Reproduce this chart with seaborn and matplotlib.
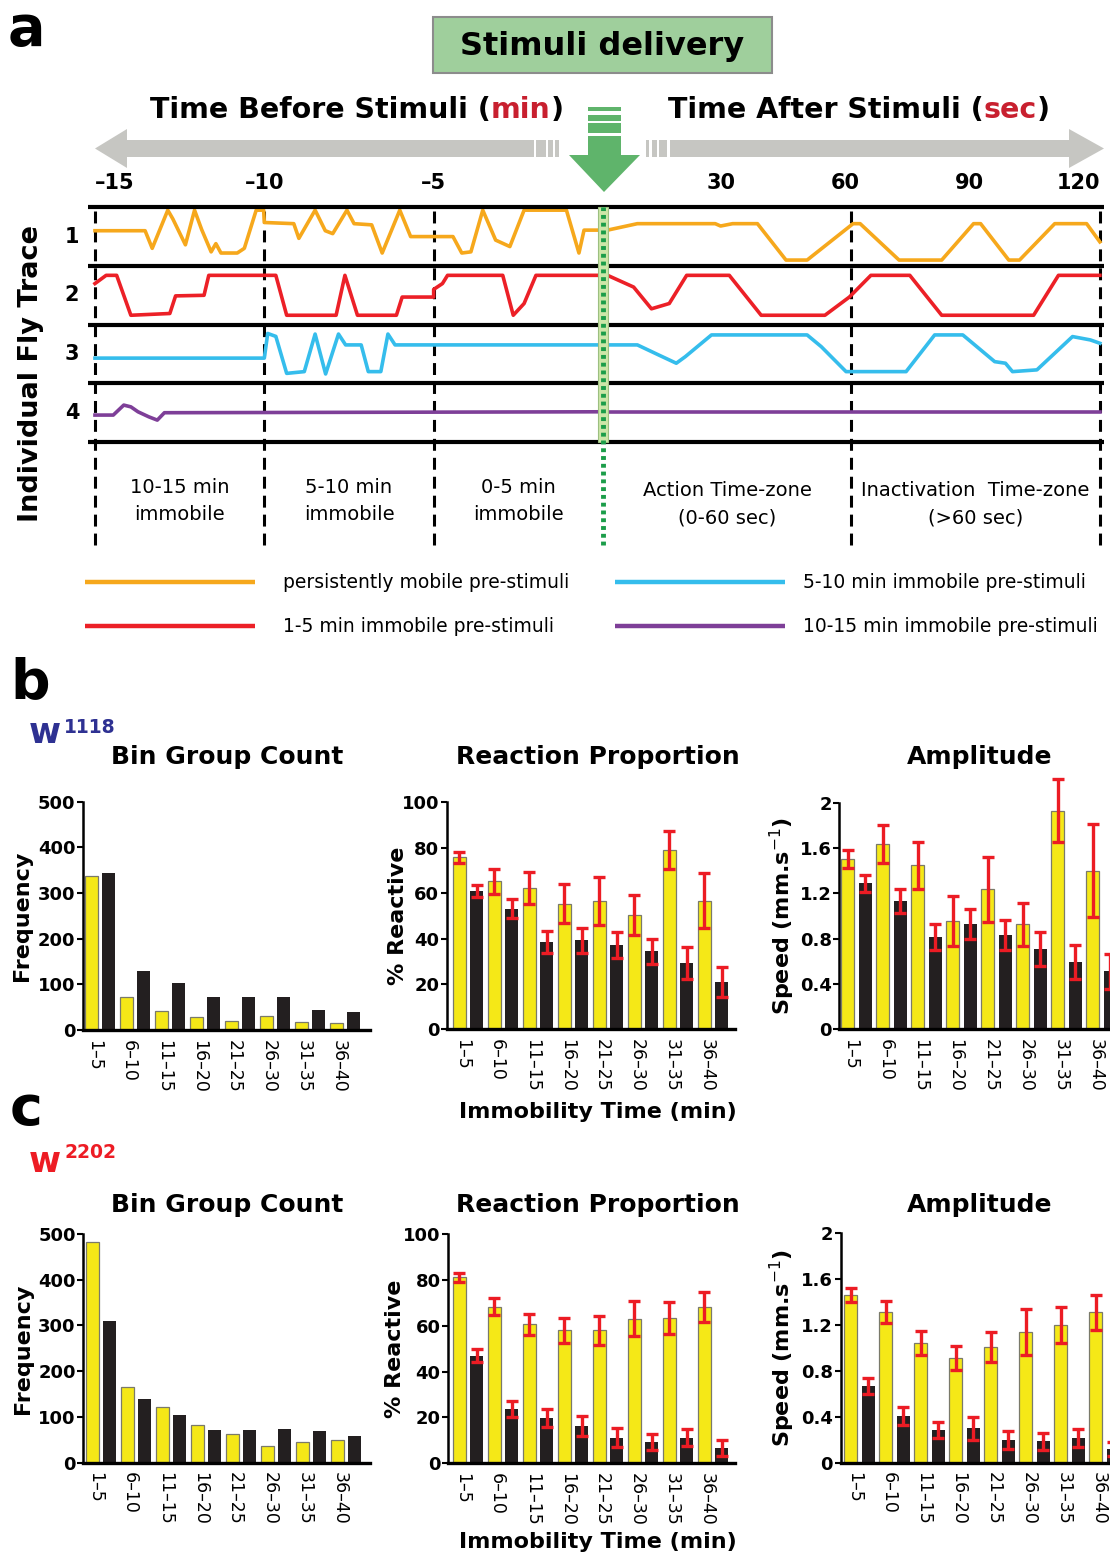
import numpy as np
import pandas as pd
import matplotlib
matplotlib.use("Agg")
import matplotlib.pyplot as plt
import matplotlib.transforms as mtransforms
from matplotlib.patches import Rectangle, Polygon
import seaborn as sns

plt.rcParams["font.family"] = ["DejaVu Sans"]

# ---------------- data: panel a, individual fly traces ----------------
# (time, level) pairs; level inside a row: 0 = lower border, 1 = upper border
# pre = minutes before stimulus, post = seconds after stimulus
fly1_pre = [(-15.0, 0.60), (-13.52, 0.60), (-13.31, 0.30), (-12.85, 0.95), (-12.70, 0.80),
            (-12.33, 0.36), (-12.06, 0.95), (-11.85, 0.62), (-11.57, 0.24), (-11.43, 0.38),
            (-11.28, 0.22), (-10.80, 0.22), (-10.59, 0.30), (-10.24, 0.95), (-10.02, 0.95),
            (-10.0, 0.74), (-9.13, 0.72), (-8.98, 0.47), (-8.50, 0.95), (-8.20, 0.60),
            (-7.98, 0.55), (-7.56, 0.95), (-7.35, 0.72), (-6.83, 0.70), (-6.52, 0.22),
            (-6.00, 0.95), (-5.68, 0.50), (-4.43, 0.50), (-4.17, 0.22), (-3.90, 0.24),
            (-3.55, 0.95), (-3.17, 0.44), (-2.75, 0.33), (-2.33, 0.95), (-1.08, 0.95),
            (-0.71, 0.22), (-0.56, 0.61), (0.0, 0.61)]
fly1_post = [(0.0, 0.61), (1.1, 0.61), (8.3, 0.72), (27.1, 0.72), (28.4, 0.68), (31.3, 0.72),
             (37.3, 0.72), (44.2, 0.10), (49.3, 0.10), (60.4, 0.72), (62.1, 0.72),
             (71.5, 0.10), (81.8, 0.10), (89.5, 0.72), (91.2, 0.72), (98.0, 0.10),
             (100.6, 0.10), (109.1, 0.72), (116.8, 0.72), (120.0, 0.41)]
fly2_pre = [(-15.0, 0.70), (-14.67, 0.84), (-14.36, 0.84), (-13.94, 0.16), (-12.79, 0.19),
            (-12.62, 0.49), (-11.78, 0.50), (-11.64, 0.84), (-9.66, 0.84), (-9.34, 0.16),
            (-7.88, 0.16), (-7.62, 0.84), (-7.25, 0.16), (-6.10, 0.16), (-5.93, 0.47),
            (-5.0, 0.47), (-5.0, 0.60), (-4.74, 0.70), (-4.59, 0.84), (-2.96, 0.84),
            (-2.65, 0.16), (-2.33, 0.36), (-1.98, 0.84), (0.0, 0.84)]
fly2_post = [(0.0, 0.84), (1.1, 0.84), (7.4, 0.64), (11.7, 0.27), (16.0, 0.36), (20.2, 0.84),
             (30.5, 0.84), (38.2, 0.16), (53.6, 0.16), (59.5, 0.47), (64.7, 0.84),
             (74.1, 0.84), (81.8, 0.16), (104.0, 0.16), (110.0, 0.84), (120.0, 0.84)]
fly3_pre = [(-15.0, 0.43), (-10.0, 0.43), (-9.9, 0.85), (-9.66, 0.80), (-9.34, 0.17),
            (-8.82, 0.20), (-8.50, 0.84), (-8.19, 0.16), (-7.81, 0.84), (-7.60, 0.655),
            (-7.14, 0.655), (-6.93, 0.20), (-6.56, 0.20), (-6.35, 0.84), (-6.14, 0.655),
            (0.0, 0.655)]
fly3_post = [(0.0, 0.655), (8.3, 0.655), (13.4, 0.485), (17.7, 0.343), (19.9, 0.456),
             (26.2, 0.825), (49.3, 0.825), (52.7, 0.626), (58.7, 0.20), (73.2, 0.20),
             (80.1, 0.825), (86.9, 0.825), (94.6, 0.37), (97.2, 0.343), (98.9, 0.20),
             (104.8, 0.23), (113.4, 0.797), (117.7, 0.74), (120.0, 0.683)]
fly4_pre = [(-15.0, 0.46), (-14.46, 0.46), (-14.15, 0.63), (-13.94, 0.60), (-13.73, 0.516),
            (-13.41, 0.43), (-13.16, 0.374), (-12.95, 0.50), (0.0, 0.516)]
fly4_post = [(0.0, 0.516), (120.0, 0.516)]

trace_names = ["persistently mobile pre-stimuli", "1-5 min immobile pre-stimuli",
               "5-10 min immobile pre-stimuli", "10-15 min immobile pre-stimuli"]
trace_colors = ["#f6a81c", "#ec2027", "#35bdec", "#7e3f98"]
pre_ticks = [-15, -10, -5]
post_ticks = [30, 60, 90, 120]
zone_labels = [(-12.5, "10-15 min\nimmobile"), (-7.5, "5-10 min\nimmobile"),
               (-2.5, "0-5 min\nimmobile")]
zone_labels_post = [(30, "Action Time-zone\n(0-60 sec)"), (90, "Inactivation  Time-zone\n(>60 sec)")]

# ---------------- data: panels b / c ----------------
bins = ["1\u20135", "6\u201310", "11\u201315", "16\u201320", "21\u201325", "26\u201330", "31\u201335", "36\u201340"]

w1118_count_mob = [338, 72, 42, 29, 20, 30, 18, 15]
w1118_count_imm = [344, 130, 102, 72, 72, 72, 43, 39]
w1118_react_mob = [75.8, 65.2, 62.3, 55.4, 56.7, 50.4, 79.0, 56.7]
w1118_react_mob_err = [2.4, 5.4, 7.1, 8.7, 10.6, 8.8, 8.5, 12.2]
w1118_react_imm = [60.9, 53.2, 38.3, 39.2, 37.0, 34.4, 29.2, 20.9]
w1118_react_imm_err = [2.7, 4.2, 4.8, 5.5, 5.8, 5.6, 6.9, 6.5]
w1118_amp_mob = [1.50, 1.635, 1.447, 0.956, 1.235, 0.926, 1.929, 1.40]
w1118_amp_mob_err = [0.08, 0.165, 0.206, 0.218, 0.29, 0.19, 0.28, 0.41]
w1118_amp_imm = [1.288, 1.132, 0.812, 0.926, 0.832, 0.712, 0.597, 0.512]
w1118_amp_imm_err = [0.076, 0.107, 0.115, 0.132, 0.13, 0.15, 0.15, 0.155]

w2202_count_mob = [482, 166, 122, 82, 62, 36, 45, 50]
w2202_count_imm = [310, 140, 104, 71, 71, 74, 69, 59]
w2202_react_mob = [81.1, 68.3, 60.6, 58.0, 58.0, 63.1, 63.5, 68.3]
w2202_react_mob_err = [2.0, 3.7, 4.5, 5.4, 6.2, 7.8, 7.0, 6.5]
w2202_react_imm = [46.9, 23.7, 19.6, 16.3, 11.2, 9.3, 11.2, 6.7]
w2202_react_imm_err = [2.9, 3.6, 3.9, 4.4, 4.0, 3.5, 3.8, 3.5]
w2202_amp_mob = [1.455, 1.313, 1.038, 0.91, 1.003, 1.133, 1.197, 1.307]
w2202_amp_mob_err = [0.06, 0.094, 0.105, 0.108, 0.13, 0.2, 0.157, 0.153]
w2202_amp_imm = [0.67, 0.406, 0.284, 0.301, 0.197, 0.186, 0.217, 0.122]
w2202_amp_imm_err = [0.07, 0.075, 0.07, 0.1, 0.077, 0.072, 0.077, 0.06]

YEL = "#f5e817"
BLK = "#231f20"
ERR = "#ec1c24"
W, H = 1110, 1560


def box(x0, y0, x1, y1):
    # pixel box (top-left origin) -> figure fraction rect
    return [x0 / W, 1 - y1 / H, (x1 - x0) / W, (y1 - y0) / H]


fig = plt.figure(figsize=(W / 100, H / 100), dpi=100)
ax0 = fig.add_axes([0, 0, 1, 1])
ax0.set_xlim(0, W)
ax0.set_ylim(H, 0)
ax0.axis("off")
renderer = fig.canvas.get_renderer()


def pieces(x, y, parts, **kw):
    for s, c in parts:
        t = ax0.text(x, y, s, color=c, ha="left", va="baseline", **kw)
        x += t.get_window_extent(renderer).width


# ---------------- panel a header ----------------
ax0.text(8, 45, "a", fontsize=40, fontweight="bold", va="baseline")
ax0.add_patch(Rectangle((433, 17), 339, 56, fc="#9fcf9c", ec="#8c8c8c", lw=1.5))
ax0.text(602, 46, "Stimuli delivery", fontsize=23, fontweight="bold", ha="center", va="center")
pieces(150, 118, [("Time Before Stimuli (", "black"), ("min", "#c8202f"), (")", "black")],
       fontsize=20.5, fontweight="bold")
pieces(668, 118, [("Time After Stimuli (", "black"), ("sec", "#c8202f"), (")", "black")],
       fontsize=20.5, fontweight="bold")

GRAY = "#c6c6c2"
ax0.add_patch(Polygon([(95, 148.5), (127, 129), (127, 140), (534, 140), (534, 157),
                       (127, 157), (127, 168)], closed=True, fc=GRAY, ec="none"))
for a, b in [(536, 546), (548, 553), (555, 559)]:
    ax0.add_patch(Rectangle((a, 140), b - a, 17, fc=GRAY, ec="none"))
ax0.add_patch(Polygon([(1104, 148.5), (1069, 129), (1069, 140), (670, 140), (670, 157),
                       (1069, 157), (1069, 168)], closed=True, fc=GRAY, ec="none"))
for a, b in [(646, 649), (652, 657), (659, 667)]:
    ax0.add_patch(Rectangle((a, 140), b - a, 17, fc=GRAY, ec="none"))

GREEN = "#5fb46b"
for a, b in [(106.7, 110.7), (115, 121), (123.3, 132.7), (136, 156)]:
    ax0.add_patch(Rectangle((587.5, a), 33.5, b - a, fc=GREEN, ec="none"))
ax0.add_patch(Polygon([(569, 155), (640, 155), (604, 192)], closed=True, fc=GREEN, ec="none"))

ax0.text(31, 374, "Individual Fly Trace", rotation=90, fontsize=19.5, fontweight="bold",
         ha="center", va="center")

# ---------------- panel a traces ----------------
axL = fig.add_axes(box(88.2, 204, 603, 545))
axR = fig.add_axes(box(603, 204, 1104, 545))
pre = [fly1_pre, fly2_pre, fly3_pre, fly4_pre]
post = [fly1_post, fly2_post, fly3_post, fly4_post]
for k in range(4):
    off = 3 - k
    for ax, seg in ((axL, pre[k]), (axR, post[k])):
        sns.lineplot(x=[p[0] for p in seg], y=[p[1] + off for p in seg], sort=False,
                     estimator=None, color=trace_colors[k], lw=2.6, ax=ax, zorder=2)

for ax, xl in ((axL, (-15.2, 0)), (axR, (0, 121))):
    ax.set_xlim(*xl)
    ax.set_ylim(-1.753, 4.055)
    ax.set_frame_on(False)
    ax.set_yticks([])
    ax.set_xlabel("")
    ax.set_ylabel("")
    for r in range(5):
        ax.axhline(r, color="black", lw=3, zorder=3)
    ax.xaxis.tick_top()
    ax.tick_params(axis="x", length=0, pad=8, labelsize=15)

axL.vlines(pre_ticks, -1.75, 4, colors="black", lw=2.2, linestyles=(0, (3.9, 2.3)),
           zorder=1, clip_on=False)
axR.vlines([60, 120], -1.75, 4, colors="black", lw=2.2, linestyles=(0, (3.9, 2.3)),
           zorder=1, clip_on=False)
axL.set_xticks(pre_ticks)
axL.set_xticklabels(["\u2013%d" % abs(t) for t in pre_ticks], fontweight="bold")
axL.get_xticklabels()[0].set_ha("left")
axR.set_xticks(post_ticks)
axR.set_xticklabels([str(t) for t in post_ticks], fontweight="bold")
axR.get_xticklabels()[-1].set_ha("right")
for lab in axR.get_xticklabels()[:-1]:
    lab.set_transform(lab.get_transform() + mtransforms.Affine2D().translate(-6, 0))

axR.add_patch(Rectangle((-1.2, 0), 2.4, 4, fc="#cde6a8", ec="#9cbf80", lw=0.8,
                        zorder=4, clip_on=False))
axR.vlines(0, -1.75, 4, colors="#1b9d49", lw=3.5, linestyles=(0, (0.8, 0.8)),
           zorder=5, clip_on=False)

trans = mtransforms.blended_transform_factory(axL.transAxes, axL.transData)
for k in range(4):
    axL.text(-0.0315, 3.5 - k, str(k + 1), transform=trans, ha="center", va="center",
             fontsize=15, fontweight="bold")
for x, s in zone_labels:
    axL.text(x, -1.0, s, ha="center", va="center", fontsize=14, linespacing=1.55)
for x, s in zone_labels_post:
    axR.text(x, -1.055, s, ha="center", va="center", fontsize=14, linespacing=1.55)

# legend
leg_pos = [(85, 582, 283), (85, 626, 283), (615, 582, 803), (615, 626, 803)]
for (x, y, tx), name, c in zip(leg_pos, trace_names, trace_colors):
    ax0.plot([x, x + 170], [y, y], color=c, lw=3.2, solid_capstyle="butt")
    ax0.text(tx, y, name, fontsize=13.5, ha="left", va="center")


# ---------------- panels b / c ----------------
def bar_panel(ax, mob, imm, mob_err, imm_err, xlim, ylim, yticks, ylabels, ylabel, lab_x):
    df = pd.DataFrame({"bin": bins * 2,
                       "group": ["mobile"] * len(bins) + ["immobile"] * len(bins),
                       "value": list(mob) + list(imm)})
    sns.barplot(data=df, x="bin", y="value", hue="group", hue_order=["mobile", "immobile"],
                palette={"mobile": YEL, "immobile": BLK}, saturation=1, width=1.0, gap=0.25,
                errorbar=None, legend=False, ax=ax)
    for b in ax.containers[0]:
        b.set_edgecolor("#7a7a6a")
        b.set_linewidth(0.9)
    for b in ax.containers[1]:
        b.set_linewidth(0)
    for cont, err in zip(list(ax.containers), [mob_err, imm_err]):
        if err is None:
            continue
        xs = [b.get_x() + b.get_width() / 2 for b in cont]
        ys = [b.get_height() for b in cont]
        eb = ax.errorbar(xs, ys, yerr=err, fmt="none", ecolor=ERR, elinewidth=2.4,
                         capsize=4.2, capthick=2.4, zorder=5)
        for art in eb.lines[1] + eb.lines[2]:
            art.set_clip_on(False)
    ax.set_xlim(*xlim)
    ax.set_ylim(*ylim)
    ax.set_xticks(np.arange(len(bins)) - 0.17)
    ax.set_xticklabels(bins, rotation=-90, fontsize=12.5, va="top", ha="center")
    ax.set_yticks(yticks)
    ax.set_yticklabels(ylabels, fontsize=13, fontweight="bold")
    ax.tick_params(axis="x", length=0, pad=7)
    ax.tick_params(axis="y", length=4, width=1.5, pad=1.5)
    sns.despine(ax=ax)
    ax.spines["left"].set_linewidth(1.8)
    ax.spines["bottom"].set_linewidth(2.4)
    ax.set_xlabel("")
    ax.set_ylabel(ylabel, fontsize=16, fontweight="bold")
    ax.yaxis.set_label_coords(lab_x, 0.5)


cnt_ticks = [0, 100, 200, 300, 400, 500]
pct_ticks = [0, 20, 40, 60, 80, 100]
amp_ticks = [0, 0.4, 0.8, 1.2, 1.6, 2.0]
amp_labels = ["0", "0.4", "0.8", "1.2", "1.6", "2"]
speed_lab = r"Speed (mm.s$^{-1}$)"

b1 = fig.add_axes(box(83, 801.7, 370, 1030))
bar_panel(b1, w1118_count_mob, w1118_count_imm, None, None, (-0.486, 7.714), (0, 500),
          cnt_ticks, [str(t) for t in cnt_ticks], "Frequency", -0.178)
b2 = fig.add_axes(box(447, 802.3, 735, 1029.3))
bar_panel(b2, w1118_react_mob, w1118_react_imm, w1118_react_mob_err, w1118_react_imm_err,
          (-0.6, 7.63), (0, 100), pct_ticks, [str(t) for t in pct_ticks], "% Reactive", -0.135)
b3 = fig.add_axes(box(839.3, 802.7, 1130, 1029.3))
bar_panel(b3, w1118_amp_mob, w1118_amp_imm, w1118_amp_mob_err, w1118_amp_imm_err,
          (-0.49, 7.81), (0, 2), amp_ticks, amp_labels, speed_lab, -0.146)

c1 = fig.add_axes(box(83.3, 1234, 370, 1462.7))
bar_panel(c1, w2202_count_mob, w2202_count_imm, None, None, (-0.506, 7.69), (0, 500),
          cnt_ticks, [str(t) for t in cnt_ticks], "Frequency", -0.174)
c2 = fig.add_axes(box(448.3, 1234, 735, 1463.3))
bar_panel(c2, w2202_react_mob, w2202_react_imm, w2202_react_mob_err, w2202_react_imm_err,
          (-0.563, 7.63), (0, 100), pct_ticks, [str(t) for t in pct_ticks], "% Reactive", -0.151)
c3 = fig.add_axes(box(840.7, 1232.7, 1130, 1462.7))
bar_panel(c3, w2202_amp_mob, w2202_amp_imm, w2202_amp_mob_err, w2202_amp_imm_err,
          (-0.54, 7.73), (0, 2), amp_ticks, amp_labels, speed_lab, -0.151)

for ax, top in ((b2, 1102), (c2, 1532)):
    ax.set_xlabel("Immobility Time (min)", fontsize=16, fontweight="bold")
    bb = ax.get_position()
    ax.xaxis.set_label_coords((598 / W - bb.x0) / bb.width, ((1 - top / H) - bb.y0) / bb.height)

for y in (757, 1205):
    ax0.text(227, y, "Bin Group Count", fontsize=18, fontweight="bold", ha="center", va="center")
    ax0.text(598, y, "Reaction Proportion", fontsize=18, fontweight="bold", ha="center", va="center")
    ax0.text(980, y, "Amplitude", fontsize=18, fontweight="bold", ha="center", va="center")

ax0.text(10, 698, "b", fontsize=40, fontweight="bold", va="baseline")
ax0.text(10, 1125, "c", fontsize=40, fontweight="bold", va="baseline")
ax0.text(29, 743, "w", fontsize=25, fontweight="bold", color="#2e3192", va="baseline")
ax0.text(64, 733, "1118", fontsize=13.5, fontweight="bold", color="#2e3192", va="baseline")
ax0.text(29, 1172, "w", fontsize=25, fontweight="bold", color="#ed1c24", va="baseline")
ax0.text(64, 1158, "2202", fontsize=13.5, fontweight="bold", color="#ed1c24", va="baseline")

fig.savefig("out.png", dpi=100)
